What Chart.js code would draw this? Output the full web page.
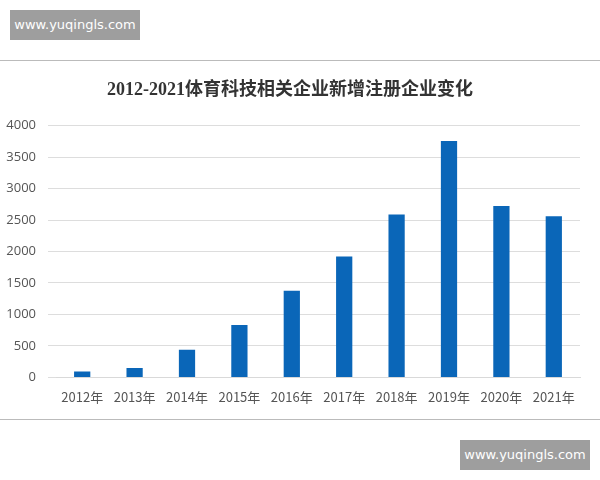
<!DOCTYPE html>
<html>
<head>
<meta charset="utf-8">
<script src="https://cdn.jsdelivr.net/npm/chart.js@4/dist/chart.umd.min.js"></script>
<style>
  body { margin: 0; width: 600px; height: 480px; background: #fff; position: relative; overflow: hidden; }
  .frame { position: absolute; left: 0; top: 60px; width: 600px; height: 358px; border-top: 1px solid #bbb; border-bottom: 1px solid #bbb; }
  .mark { position: absolute; width: 130px; height: 30px; background: #9e9e9e; color: #fff; font: 13px "DejaVu Sans", sans-serif; line-height: 30px; text-align: center; }
</style>
</head>
<body>
<div class="mark" style="left:10px;top:10px">www.yuqingls.com</div>
<div class="mark" style="left:460px;top:440px">www.yuqingls.com</div>
<div class="frame"><canvas id="myChart" width="600" height="358"></canvas></div>
<script>
var years = ['2012年', '2013年', '2014年', '2015年', '2016年', '2017年', '2018年', '2019年', '2020年', '2021年'];
var newCompanies = [95, 148, 438, 834, 1377, 1921, 2586, 3757, 2723, 2559];
var yTicks = [0, 500, 1000, 1500, 2000, 2500, 3000, 3500, 4000];

var ctx = document.getElementById('myChart').getContext('2d');
var chart = new Chart(ctx, {
    type: 'bar',
    data: {
        labels: years,
        datasets: [{
            label: '新增注册企业',
            backgroundColor: '#0a66b8',
            data: newCompanies,
            barPercentage: 0.62,
            categoryPercentage: 0.5
        }]
    },
    options: {
        responsive: false,
        animation: false,
        layout: { padding: { left: 0, right: 20, top: 0, bottom: 10 } },
        plugins: {
            legend: { display: false },
            tooltip: { enabled: false },
            title: {
                display: true,
                text: '2012-2021体育科技相关企业新增注册企业变化',
                color: '#333',
                font: { family: '"Liberation Serif", "Noto Sans CJK SC", serif', size: 18, weight: 'bold' },
                padding: { top: 19, bottom: 24 }
            }
        },
        scales: {
            x: {
                grid: { display: false },
                border: { color: '#d9d9d9' },
                ticks: { color: '#555', font: { size: 13, family: '"Noto Sans CJK SC", sans-serif' }, padding: 4 }
            },
            y: {
                min: 0,
                max: 4000,
                afterFit: function (axis) { axis.width = 56; },
                afterBuildTicks: function (axis) { axis.ticks = yTicks.map(function (v) { return { value: v }; }); },
                grid: { color: '#dddddd' },
                border: { display: false },
                ticks: {
                    color: '#555',
                    font: { size: 13, family: '"Open Sans", sans-serif' },
                    padding: 12,
                    callback: function (v) { return String(v); }
                }
            }
        }
    }
});
</script>
</body>
</html>
